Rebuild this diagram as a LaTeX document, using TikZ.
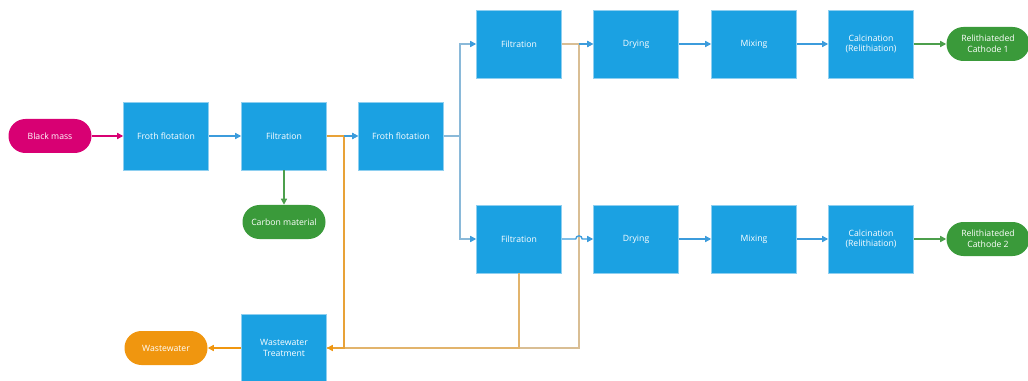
\documentclass[tikz,border=0pt]{standalone}
\usepackage{fontspec}
\setmainfont{Open Sans}
\usetikzlibrary{arrows.meta}
\definecolor{boxblue}{HTML}{1BA1E2}
\definecolor{boxedge}{HTML}{8ECFF0}
\definecolor{mag}{HTML}{D80073}
\definecolor{grn}{HTML}{3A9A3A}
\definecolor{org}{HTML}{F0960F}
\definecolor{lblue}{HTML}{3C9CDC}
\definecolor{sblue}{HTML}{8AB9D9}
\definecolor{or1}{HTML}{E8A238}
\definecolor{or2}{HTML}{E2B46C}
\definecolor{or3}{HTML}{D9BE94}
\definecolor{lgrn}{HTML}{4C9F4C}
\tikzset{
  procbox/.style={fill=boxblue,draw=boxedge,line width=0.4pt,minimum width=63.75pt,minimum height=51pt,inner sep=1pt,text=white,font=\fontsize{6.5}{8}\selectfont,align=center},
  pill/.style={minimum width=62.25pt,minimum height=25.5pt,rounded corners=12.7pt,inner sep=1pt,text=white,font=\fontsize{6.5}{8}\selectfont,align=center},
  tip/.style={-{Triangle[length=4.5pt,width=4.5pt]}},
  bline/.style={tip,draw=lblue,line width=1pt},
  sline/.style={-{Triangle[length=4.5pt,width=4.5pt,color=lblue]},draw=sblue,line width=1.1pt},
  gline/.style={tip,draw=lgrn,line width=1pt},
  mline/.style={tip,draw=mag,line width=1pt},
  wline/.style={line width=1.2pt},
}
\begin{document}
\begin{tikzpicture}[x=0.75pt,y=-0.75pt]
\useasboundingbox (0,0) rectangle (1028,381);
% nodes
\node[pill,fill=mag] (bm) at (50,136) {Black mass};
\node[procbox] (ff1) at (166,136) {Froth flotation};
\node[procbox] (fi1) at (284,136) {Filtration};
\node[pill,fill=grn] (cm) at (284,222) {Carbon material};
\node[procbox] (ff2) at (401,136) {Froth flotation};
\node[procbox] (ft) at (519,44) {Filtration};
\node[procbox] (dt) at (636,44) {Drying};
\node[procbox] (mt) at (754,44) {Mixing};
\node[procbox] (ct) at (871,44) {Calcination\\(Relithiation)};
\node[pill,fill=grn] (rt) at (988,44) {Relithiateded\\Cathode 1};
\node[procbox] (fb) at (519,239) {Filtration};
\node[procbox] (db) at (636,239) {Drying};
\node[procbox] (mb) at (754,239) {Mixing};
\node[procbox] (cb) at (871,239) {Calcination\\(Relithiation)};
\node[pill,fill=grn] (rb) at (988,239) {Relithiateded\\Cathode 2};
\node[procbox] (wt) at (284,348) {Wastewater\\Treatment};
\node[pill,fill=org] (ww) at (166,348) {Wastewater};
% connectors
\draw[mline] (bm) -- (ff1);
\draw[bline] (ff1) -- (fi1);
\draw[bline] (fi1) -- (ff2);
\draw[gline] (fi1) -- (cm);
\draw[sline] (ff2.east) -- ++(16,0) |- (ft.west);
\draw[sline] (ff2.east) -- ++(16,0) |- (fb.west);
\draw[bline] (ft) -- (dt);
\draw[bline] (dt) -- (mt);
\draw[bline] (mt) -- (ct);
\draw[gline] (ct) -- (rt);
\draw[bline] (db) -- (mb);
\draw[bline] (mb) -- (cb);
\draw[gline] (cb) -- (rb);
% waste lines
\draw[wline,draw=or3] (ft.east) -- ++(17,0) |- (wt.east);
\draw[bline] (ft.east) ++(17,0) -- (dt.west);
\draw[wline,draw=or2] (fb.south) |- (wt.east);
\draw[wline,-{Triangle[length=4.5pt,width=4.5pt,color=org]},draw=or1] (fi1.east) -- ++(17,0) |- (wt.east);
\draw[bline] (fi1.east) ++(17,0) -- (ff2.west);
% hop over
\draw[bline] (fb.east) -- ++(14,0) arc[start angle=180,end angle=0,radius=2.4pt] -- (db.west);
\draw[-{Triangle[length=4.5pt,width=4.5pt]},draw=org,line width=1pt] (wt) -- (ww);
\end{tikzpicture}
\end{document}
